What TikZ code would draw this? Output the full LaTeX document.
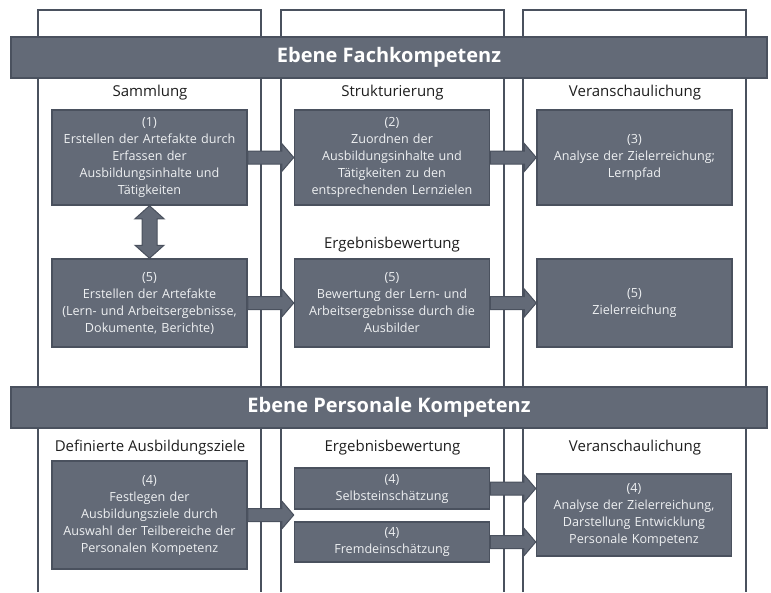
\documentclass[tikz,border=0pt]{standalone}
\usepackage{fontspec}
\setmainfont{Open Sans}
\usetikzlibrary{calc, positioning}

\definecolor{slate}{HTML}{636A77}
\definecolor{slatedark}{HTML}{4A515E}
\definecolor{boxtext}{HTML}{EEF0F2}
\definecolor{headtext}{HTML}{1E1E1E}

\tikzset{
  fatarrow/.style={fill=slate, draw=slatedark, line width=1pt,
    to path={let \p1=(\tikztostart), \p2=(\tikztotarget) in
      (\x1,\y1+6.5pt) -- (\x2-12pt,\y1+6.5pt) -- (\x2-12pt,\y1+14pt) -- (\x2,\y1)
      -- (\x2-12pt,\y1-14pt) -- (\x2-12pt,\y1-6.5pt) -- (\x1,\y1-6.5pt) -- cycle}},
  dblarrow/.style={fill=slate, draw=slatedark, line width=1pt,
    to path={let \p1=(\tikztostart), \p2=(\tikztotarget) in
      (\x1,\y1) -- (\x1+14.5pt,\y1-13pt) -- (\x1+7.5pt,\y1-13pt) -- (\x1+7.5pt,\y2+13pt)
      -- (\x1+14.5pt,\y2+13pt) -- (\x1,\y2) -- (\x1-14.5pt,\y2+13pt) -- (\x1-7.5pt,\y2+13pt)
      -- (\x1-7.5pt,\y1-13pt) -- (\x1-14.5pt,\y1-13pt) -- cycle}},
}

\begin{document}
\begin{tikzpicture}[x=1pt,y=-1pt,node distance=242.5pt,on grid,
    column/.style={draw=slatedark,line width=2pt},
    banner/.style={fill=slate,draw=slatedark,line width=1.5pt,minimum width=756pt,minimum height=41pt,
      text=white,font=\bfseries\fontsize{20}{23}\selectfont},
    box/.style={fill=slate,draw=slatedark,line width=1.5pt,minimum width=195pt,inner sep=0pt,
      text width=194pt,align=center,text=boxtext,font=\fontsize{12.6}{17}\selectfont},
    heading/.style={text=headtext,font=\fontsize{15}{18}\selectfont}]
  \useasboundingbox (0,0) rectangle (771,592);

  % columns
  \draw[column] (38,592) -- (38,10) -- (261,10) -- (261,592);
  \draw[column] (281,592) -- (281,10) -- (504,10) -- (504,592);
  \draw[column] (523,592) -- (523,10) -- (746,10) -- (746,592);

  % levels
  \node[banner] (fach) at (389,57.5)  {Ebene Fachkompetenz};
  \node[banner] (pers) at (389,407.5) {Ebene Personale Kompetenz};

  % Fachkompetenz
  \node[heading] (hsamm) at (150,93)  {Sammlung};
  \node[heading] (hstru) [right=of hsamm] {Strukturierung};
  \node[heading] (hver1) [right=of hstru] {Veranschaulichung};

  \node[box,minimum height=95pt] (b1) at (149.5,157.5)
    {(1)\\Erstellen der Artefakte durch\\Erfassen der\\Ausbildungsinhalte und\\Tätigkeiten};
  \node[box,minimum height=95pt] (b2) [right=of b1]
    {(2)\\Zuordnen der\\Ausbildungsinhalte und\\Tätigkeiten zu den\\entsprechenden Lernzielen};
  \node[box,minimum height=95pt] (b3) [right=of b2]
    {(3)\\Analyse der Zielerreichung;\\Lernpfad};

  \node[heading] (herg1) at (392,245) {Ergebnisbewertung};
  \node[box,minimum height=88pt] (b5a) at (149.5,303)
    {(5)\\Erstellen der Artefakte\\(Lern- und Arbeitsergebnisse,\\Dokumente, Berichte)};
  \node[box,minimum height=88pt] (b5b) [right=of b5a]
    {(5)\\Bewertung der Lern- und\\Arbeitsergebnisse durch die\\Ausbilder};
  \node[box,minimum height=88pt] (b5c) [right=of b5b]
    {(5)\\Zielerreichung};

  % Personale Kompetenz
  \node[heading] (hdef) at (150,448) {Definierte Ausbildungsziele};
  \node[heading] (herg2) [right=of hdef] {Ergebnisbewertung};
  \node[heading] (hver2) [right=of herg2] {Veranschaulichung};

  \node[box,minimum height=108pt] (b4a) at (149.5,515)
    {(4)\\Festlegen der\\Ausbildungsziele durch\\Auswahl der Teilbereiche der\\Personalen Kompetenz};
  \node[box,minimum height=41pt] (b4b) at (392,488.5) {(4)\\Selbsteinschätzung};
  \node[box,minimum height=40pt] (b4c) at (392,542) {(4)\\Fremdeinschätzung};
  \node[box,minimum height=82pt] (b4d) at (634,515)
    {(4)\\Analyse der Zielerreichung,\\Darstellung Entwicklung\\Personale Kompetenz};

  % arrows
  \draw[fatarrow] (b1.east) to (b2.west);
  \draw[fatarrow] (b2.east) to (b3.west);
  \draw[fatarrow] (b5a.east) to (b5b.west);
  \draw[fatarrow] (b5b.east) to (b5c.west);
  \draw[fatarrow] (b4a.east) to (b4b.west);
  \draw[fatarrow] (b4b.east) to (b4d.west);
  \draw[fatarrow] (b4c.east) to (b4d.west);
  \draw[dblarrow] (b1.south) to (b5a.north);
\end{tikzpicture}
\end{document}
